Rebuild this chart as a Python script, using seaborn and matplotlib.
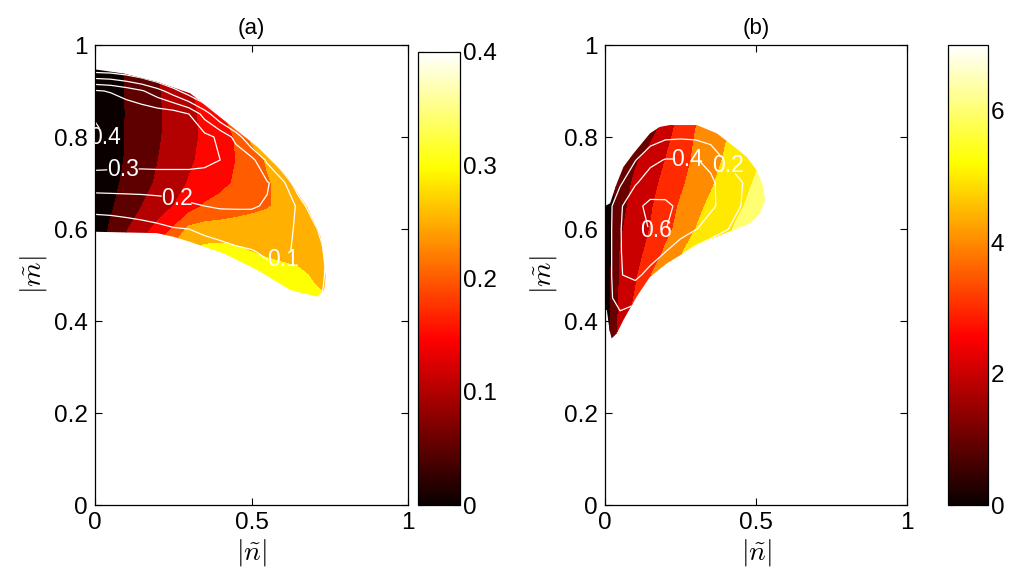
import numpy as np
import matplotlib
matplotlib.use("Agg")
import matplotlib.pyplot as plt
import seaborn as sns
from matplotlib.patches import Polygon
from matplotlib.colors import Normalize
from matplotlib.cm import ScalarMappable

sns.set_theme(style="white")
plt.rcParams["font.family"] = ["Liberation Sans", "DejaVu Sans"]
plt.rcParams["mathtext.fontset"] = "cm"

# ---------------- panel (a) ----------------
n_a = [0, .05, .1, .15, .2, .25, .3, .35, .4, .45, .5, .55, .6, .65, .7, .75]
m_a = [.45, .5, .55, .6, .65, .7, .75, .8, .85, .9, .95]

# filled field (colour bar 0..0.4), rows follow m_a
colour_a = [
    [.01, .09, .15, .20, .25, .29, .315, .32, .32, .32, .315, .31, .31, .31, .305, .30],
    [.01, .08, .14, .19, .24, .28, .31, .32, .322, .32, .318, .315, .31, .305, .297, .292],
    [.01, .07, .12, .17, .22, .27, .30, .315, .318, .31, .30, .295, .292, .29, .29, .29],
    [.01, .058, .096, .13, .165, .204, .262, .27, .272, .275, .278, .28, .283, .287, .29, .29],
    [.01, .042, .077, .10, .125, .15, .175, .205, .215, .225, .235, .245, .265, .28, .29, .29],
    [.01, .034, .062, .085, .106, .13, .153, .17, .188, .205, .226, .245, .265, .28, .29, .29],
    [.01, .028, .054, .076, .099, .121, .142, .162, .181, .20, .228, .255, .275, .285, .29, .29],
    [.01, .027, .053, .073, .094, .116, .137, .158, .181, .203, .26, .27, .28, .285, .29, .29],
    [.01, .026, .052, .072, .093, .114, .137, .16, .19, .235, .26, .27, .28, .285, .29, .29],
    [.01, .027, .053, .074, .095, .117, .143, .168, .19, .215, .24, .26, .27, .28, .28, .28],
    [.01, .028, .054, .077, .098, .12, .145, .17, .195, .22, .245, .26, .27, .28, .28, .28],
]

# white contour-line field
lines_a = [
    [-.3, -.27, -.24, -.2, -.16, -.12, -.08, -.04, -.01, .02, .03, .04, .04, .03, .02, -.02],
    [-.2, -.18, -.16, -.14, -.12, -.1, -.07, -.04, -.01, .03, .06, .08, .08, .07, .04, -.02],
    [-.1, -.08, -.06, -.04, -.02, .0, .03, .05, .07, .085, .095, .11, .11, .09, .04, -.02],
    [.03, .035, .05, .065, .08, .095, .10, .12, .13, .14, .14, .14, .12, .09, .04, -.16],
    [.14, .145, .15, .155, .16, .17, .19, .20, .21, .21, .21, .19, .14, .09, -.11, -.4],
    [.245, .245, .245, .245, .25, .25, .25, .25, .245, .24, .235, .21, .135, -.11, -.37, -.4],
    [.345, .34, .335, .335, .335, .335, .335, .325, .30, .265, .235, .08, -.15, -.38, -.4, -.4],
    [.42, .39, .37, .36, .355, .35, .345, .33, .28, .17, -.02, -.23, -.4, -.4, -.4, -.4],
    [.39, .385, .375, .365, .355, .35, .30, .16, .0, -.165, -.34, -.4, -.4, -.4, -.4, -.4],
    [.31, .293, .255, .21, .14, .045, -.07, -.19, -.33, -.4, -.4, -.4, -.4, -.4, -.4, -.4],
    [-.075, -.083, -.11, -.16, -.23, -.31, -.4, -.4, -.4, -.4, -.4, -.4, -.4, -.4, -.4, -.4],
]

edge_n_a = [0, .091, .198, .304, .411, .518, .604, .678, .721, .737, .732, .711,
            .625, .518, .411, .304, .251, .198, 0]
edge_m_a = [.947, .938, .92, .895, .837, .779, .721, .648, .583, .496, .467, .453,
            .467, .511, .547, .572, .583, .591, .594]

bands_a = [0, .05, .1, .15, .2, .25, .3, .35]
cmax_a = 0.4
line_levels_a = [.1, .2, .3, .4]
edge_level_a = [0.0]
label_pos_a = [(.03, .80), (.09, .725), (.25, .655), (.60, .535)]
cbar_ticks_a = [0, .1, .2, .3, .4]
cbar_labels_a = ["0", "0.1", "0.2", "0.3", "0.4"]

# ---------------- panel (b) ----------------
n_b = [0, .05, .1, .15, .2, .25, .3, .35, .4, .45, .5, .55]
m_b = [.35, .4, .45, .5, .55, .6, .65, .7, .75, .8, .85]

colour_b = [
    [.5, 2.52, 3.75, 4.67, 5.23, 5.62, 6.0, 6.35, 6.7, 7, 7, 7],
    [.3, 2.32, 3.5, 4.43, 5.07, 5.43, 5.79, 6.15, 6.5, 6.8, 7, 7],
    [.3, 2.18, 3.09, 4.14, 4.86, 5.27, 5.6, 5.93, 6.27, 6.6, 6.9, 7],
    [.3, 2.09, 2.81, 3.95, 4.62, 5.13, 5.44, 5.75, 6.07, 6.4, 6.7, 7],
    [.3, 2.02, 2.61, 3.3, 4.16, 4.94, 5.29, 5.62, 5.94, 6.27, 6.6, 6.9],
    [.3, 1.87, 2.48, 3.03, 3.68, 4.33, 5.0, 5.4, 5.8, 6.25, 6.6, 6.9],
    [.2, 1.67, 2.36, 2.88, 3.49, 4.11, 4.78, 5.15, 5.54, 5.92, 6.3, 6.65],
    [0, 1.4, 2.2, 2.7, 3.24, 3.82, 4.37, 4.89, 5.31, 5.69, 6.1, 6.45],
    [-.5, 1.08, 1.85, 2.44, 3.0, 3.61, 4.17, 4.66, 5.11, 5.48, 5.85, 6.3],
    [-1, .7, 1.3, 1.8, 2.67, 3.44, 4.05, 4.5, 4.95, 5.33, 5.7, 6.1],
    [-1, .5, 1.0, 1.5, 2.0, 3.25, 3.88, 4.36, 4.82, 5.21, 5.57, 5.93],
]

lines_b = [
    [-.1, 0, -.05, -.1, -.1, -.1, -.1, -.1, -.1, -.1, -.1, -.1],
    [0, .12, .1, .05, 0, -.05, -.1, -.1, -.1, -.1, -.1, -.1],
    [.1, .3, .24, .15, .08, .0, -.05, -.1, -.1, -.1, -.1, -.1],
    [.05, .39, .45, .33, .13, .05, .0, -.05, -.1, -.1, -.1, -.1],
    [.05, .39, .5, .5, .4, .24, .12, .03, -.05, -.1, -.1, -.1],
    [.05, .39, .53, .61, .605, .52, .41, .32, .22, .1, .0, -.1],
    [.05, .37, .56, .64, .63, .57, .5, .43, .34, .2, .05, -.1],
    [-.1, .17, .38, .5, .52, .5, .47, .43, .33, .22, .05, -.1],
    [-.2, .0, .19, .35, .41, .41, .41, .36, .18, .05, -.05, -.15],
    [-.3, -.2, -.05, .1, .17, .18, .17, .12, .0, -.1, -.2, -.3],
    [-.3, -.3, -.3, -.3, -.3, -.3, -.3, -.3, -.3, -.3, -.3, -.3],
]

edge_n_b = [.022, .039, .061, .105, .149, .204, .259, .315, .37, .425, .48, .513,
            .53, .524, .502, .469, .414, .37, .304, .215, .182, .149, .094, .061,
            .039, .017, 0, 0, .006, .015]
edge_m_b = [.362, .373, .402, .453, .496, .525, .547, .569, .583, .598, .612, .634,
            .663, .692, .728, .757, .786, .808, .826, .826, .822, .808, .764, .735,
            .699, .656, .65, .424, .424, .38]

bands_b = [0, 1, 2, 3, 4, 5, 6]
cmax_b = 7
line_levels_b = [.2, .4, .6]
label_pos_b = [(.17, .60), (.27, .752), (.41, .74)]
cbar_ticks_b = [0, 2, 4, 6]
cbar_labels_b = ["0", "2", "4", "6"]

hot = sns.color_palette("hot", as_cmap=True)
TICK_SIZE = 17.5


def draw_panel(ax, cax, n, m, colour, lines, bands, cmax, levels, label_pos,
               edge_n, edge_m, title, cticks, clabels, extra_levels=None):
    region = Polygon(np.column_stack([edge_n, edge_m]), closed=True,
                     transform=ax.transData)
    edges = [-100] + list(bands[1:]) + [100]
    band_colours = [hot(b / cmax) for b in bands]
    cf = ax.contourf(n, m, colour, levels=edges, colors=band_colours)
    cf.set_clip_path(region)

    if extra_levels:
        ce = ax.contour(n, m, lines, levels=extra_levels, colors="white",
                        linewidths=0.9)
        ce.set_clip_path(region)
    cs = ax.contour(n, m, lines, levels=levels, colors="white", linewidths=0.9)
    texts = ax.clabel(cs, manual=label_pos, inline=True, fmt="%.1f",
                      fontsize=16.5, colors="white")
    for t in texts:
        t.set_rotation(0)
    cs.set_clip_path(region)

    ax.set_xlim(0, 1)
    ax.set_ylim(0, 1)
    ax.set_xticks([0, .5, 1])
    ax.set_xticklabels(["0", "0.5", "1"])
    ax.set_yticks([0, .2, .4, .6, .8, 1])
    ax.set_yticklabels(["0", "0.2", "0.4", "0.6", "0.8", "1"])
    ax.tick_params(direction="in", bottom=True, left=True, top=True, right=True,
                   length=5, width=0.8, labelsize=TICK_SIZE, colors="black",
                   pad=5)
    for sp in ax.spines.values():
        sp.set_color("black")
        sp.set_linewidth(0.9)
    ax.set_xlabel(r"$|\tilde{n}|$", fontsize=20, color="black", labelpad=2)
    ax.set_ylabel(r"$|\tilde{m}|$", fontsize=20, color="black", labelpad=4)
    ax.set_title(title, fontsize=16, color="black", pad=8)

    sm = ScalarMappable(norm=Normalize(0, cmax), cmap=hot)
    cb = plt.colorbar(sm, cax=cax, ticks=cticks)
    cb.set_ticklabels(clabels)
    cb.outline.set_edgecolor("black")
    cb.outline.set_linewidth(0.9)
    cax.tick_params(direction="in", left=True, right=True, length=4, width=0.8,
                    labelsize=TICK_SIZE, colors="black", pad=2)


W, H = 1011, 586
fig = plt.figure(figsize=(W / 100, H / 100), dpi=100)
fig.patch.set_facecolor("white")

ax_a = fig.add_axes([95 / W, 81 / H, 313 / W, 460 / H])
cax_a = fig.add_axes([418 / W, 81 / H, 42 / W, 453 / H])
ax_b = fig.add_axes([605 / W, 81 / H, 302 / W, 460 / H])
cax_b = fig.add_axes([948 / W, 81 / H, 40 / W, 460 / H])

draw_panel(ax_a, cax_a, n_a, m_a, colour_a, lines_a, bands_a, cmax_a,
           line_levels_a, label_pos_a, edge_n_a, edge_m_a, "(a)",
           cbar_ticks_a, cbar_labels_a, extra_levels=edge_level_a)
draw_panel(ax_b, cax_b, n_b, m_b, colour_b, lines_b, bands_b, cmax_b,
           line_levels_b, label_pos_b, edge_n_b, edge_m_b, "(b)",
           cbar_ticks_b, cbar_labels_b)

fig.savefig("out.png", dpi=100, facecolor="white")
